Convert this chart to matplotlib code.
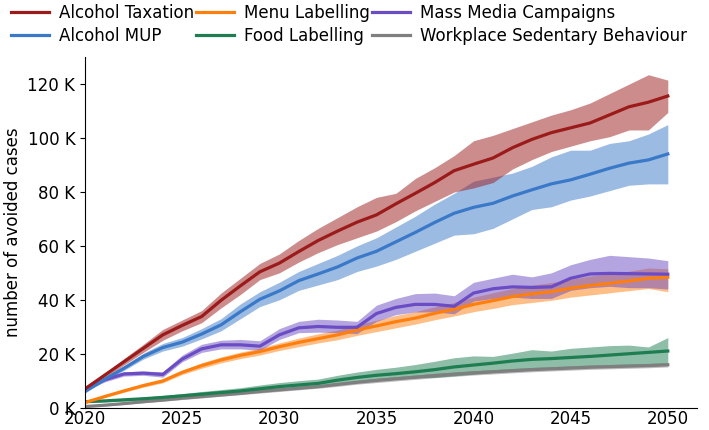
import matplotlib
matplotlib.use("Agg")
import matplotlib.pyplot as plt
from matplotlib.ticker import FuncFormatter

# years and avoided cases (thousands)
years = list(range(2020, 2051))

tax = [7.0, 12.0, 17.0, 22.0, 27.0, 30.5, 33.8, 39.8, 45.2, 50.4, 53.6, 57.9, 62.0, 65.5, 68.8,
       71.5, 75.6, 79.5, 83.5, 87.9, 90.3, 92.6, 96.4, 99.5, 102.0, 103.8, 105.6, 108.6, 111.6, 113.3, 115.6]
tax_lo = [6.5, 11.0, 15.8, 20.5, 25.0, 28.5, 31.5, 37.0, 42.0, 47.5, 50.0, 54.0, 57.5, 60.5, 63.0,
          65.5, 69.0, 73.0, 76.5, 80.0, 81.5, 83.5, 88.5, 92.0, 95.0, 97.0, 99.0, 100.5, 103.0, 103.0, 109.5]
tax_hi = [7.5, 12.8, 18.2, 23.5, 29.0, 32.5, 36.0, 42.5, 48.0, 53.5, 57.0, 62.0, 66.5, 70.5, 74.5,
          78.0, 79.5, 85.0, 89.0, 93.5, 99.0, 101.0, 103.5, 106.0, 108.5, 110.5, 113.0, 116.5, 120.0, 123.5, 121.5]

mup = [6.0, 10.5, 14.6, 19.0, 22.3, 24.3, 27.3, 30.7, 35.6, 40.2, 43.3, 47.1, 49.6, 52.2, 55.5,
       58.0, 61.5, 65.0, 68.7, 72.1, 74.3, 75.8, 78.5, 80.8, 83.0, 84.5, 86.6, 88.8, 90.7, 91.9, 94.1]
mup_lo = [5.5, 9.8, 13.8, 18.0, 21.0, 22.8, 25.5, 28.5, 33.0, 37.5, 40.0, 43.5, 45.5, 47.5, 50.5,
          52.5, 55.0, 58.0, 61.0, 64.0, 64.5, 66.5, 70.0, 73.5, 74.5, 77.0, 78.5, 80.5, 82.5, 83.0, 83.0]
mup_hi = [6.5, 11.3, 15.5, 20.2, 23.8, 26.0, 29.3, 33.0, 38.5, 43.0, 46.5, 50.5, 53.5, 56.5, 60.0,
          63.0, 67.0, 71.0, 75.5, 79.5, 84.0, 85.5, 87.0, 89.5, 93.0, 95.5, 95.5, 98.0, 99.0, 101.5, 105.0]

menu = [1.9, 4.1, 6.2, 8.2, 9.9, 13.1, 15.6, 17.7, 19.4, 20.8, 22.6, 24.2, 25.6, 27.0, 28.8,
        30.3, 31.9, 33.2, 35.0, 36.5, 38.3, 39.7, 41.2, 42.2, 43.0, 44.3, 45.3, 46.1, 47.0, 48.0, 48.4]
menu_lo = [1.6, 3.7, 5.7, 7.6, 9.2, 12.3, 14.6, 16.6, 18.2, 19.5, 21.2, 22.6, 24.0, 25.2, 26.8,
           28.2, 29.6, 31.0, 32.6, 34.0, 35.6, 36.8, 38.2, 39.0, 39.8, 41.0, 41.8, 42.6, 43.4, 44.2, 43.0]
menu_hi = [2.2, 4.5, 6.7, 8.8, 10.6, 13.9, 16.6, 18.8, 20.6, 22.1, 24.0, 25.8, 27.4, 28.8, 30.8,
           32.4, 34.2, 35.6, 37.4, 39.0, 41.0, 42.6, 44.2, 45.4, 46.4, 47.6, 48.8, 49.6, 50.6, 51.8, 51.5]

food = [2.2, 2.5, 2.9, 3.3, 3.8, 4.4, 5.0, 5.6, 6.2, 7.0, 7.8, 8.4, 9.0, 10.2, 11.2,
        12.0, 12.6, 13.3, 14.1, 15.1, 15.8, 16.5, 17.3, 17.9, 18.2, 18.6, 19.0, 19.5, 20.0, 20.5, 21.0]
food_lo = [1.9, 2.1, 2.4, 2.7, 3.1, 3.6, 4.1, 4.6, 5.1, 5.8, 6.5, 7.0, 7.5, 8.5, 9.4,
           10.0, 10.5, 11.0, 11.2, 11.8, 12.4, 13.0, 13.6, 14.2, 14.5, 14.8, 15.2, 15.5, 15.8, 16.0, 16.5]
food_hi = [2.5, 2.9, 3.4, 3.9, 4.5, 5.2, 6.0, 6.7, 7.4, 8.4, 9.3, 10.0, 10.6, 12.0, 13.2,
           14.2, 15.0, 16.0, 17.2, 18.5, 19.2, 19.0, 20.2, 21.5, 21.0, 22.0, 22.5, 23.0, 23.2, 22.5, 26.0]

mass = [7.0, 10.3, 12.5, 12.8, 12.3, 18.0, 21.8, 23.3, 23.3, 22.8, 27.0, 29.6, 30.1, 29.8, 29.8,
        34.9, 37.2, 38.3, 38.3, 37.6, 42.5, 44.1, 44.8, 44.6, 44.8, 48.0, 49.6, 49.8, 49.7, 49.6, 49.5]
mass_lo = [6.3, 9.5, 11.7, 12.0, 11.3, 17.0, 20.5, 21.8, 21.8, 21.3, 25.3, 27.8, 28.0, 27.8, 27.5,
           32.0, 34.5, 35.5, 35.5, 34.8, 39.5, 40.5, 41.0, 40.5, 40.5, 43.5, 44.5, 45.0, 44.5, 44.5, 44.0]
mass_hi = [7.7, 11.0, 13.3, 13.6, 13.3, 19.5, 23.5, 25.0, 25.3, 24.8, 29.3, 32.0, 32.8, 32.5, 32.0,
           38.0, 40.5, 42.3, 42.5, 41.5, 46.5, 48.0, 49.5, 48.5, 50.0, 53.0, 55.0, 56.5, 56.0, 55.5, 54.5]

work = [0.4, 0.9, 1.5, 2.2, 2.8, 3.5, 4.1, 4.7, 5.3, 6.0, 6.6, 7.2, 7.8, 8.6, 9.4,
        10.1, 10.7, 11.3, 11.9, 12.4, 12.9, 13.3, 13.7, 14.1, 14.4, 14.7, 15.0, 15.2, 15.4, 15.6, 15.9]
work_lo = [0.2, 0.6, 1.2, 1.8, 2.4, 3.0, 3.6, 4.2, 4.8, 5.4, 6.0, 6.6, 7.2, 7.9, 8.7,
           9.3, 9.9, 10.5, 11.1, 11.6, 12.1, 12.5, 12.9, 13.3, 13.6, 13.9, 14.2, 14.4, 14.6, 14.8, 15.1]
work_hi = [0.6, 1.2, 1.8, 2.6, 3.2, 4.0, 4.6, 5.2, 5.8, 6.6, 7.2, 7.8, 8.4, 9.3, 10.1,
           10.9, 11.5, 12.1, 12.7, 13.2, 13.7, 14.1, 14.5, 14.9, 15.2, 15.5, 15.8, 16.0, 16.2, 16.4, 16.7]

labels = ["Alcohol Taxation", "Alcohol MUP", "Menu Labelling", "Food Labelling",
          "Mass Media Campaigns", "Workplace Sedentary Behaviour"]
colors = ["#9b1b1b", "#3a78c8", "#ff7f0e", "#1f7d52", "#6a4cc4", "#7f7f7f"]
series = [(tax, tax_lo, tax_hi), (mup, mup_lo, mup_hi), (menu, menu_lo, menu_hi),
          (food, food_lo, food_hi), (mass, mass_lo, mass_hi), (work, work_lo, work_hi)]

fig = plt.figure(figsize=(7.09, 4.30), dpi=100)
ax = fig.add_axes([0.12, 0.052, 0.863, 0.815])

# draw bottom-most first so the order looks like the original
order = [5, 3, 2, 4, 1, 0]
handles = {}
for i in order:
    mid, lo, hi = series[i]
    ax.fill_between(years, lo, hi, color=colors[i], alpha=0.5, linewidth=0)
    ln, = ax.plot(years, mid, color=colors[i], lw=2.3, label=labels[i])
    handles[i] = ln

ax.set_xlim(2020, 2051.5)
ax.set_ylim(0, 130)
ax.set_xticks([2020, 2025, 2030, 2035, 2040, 2045, 2050])
ax.set_yticks([0, 20, 40, 60, 80, 100, 120])
ax.yaxis.set_major_formatter(FuncFormatter(lambda v, p: "%d K" % v))
ax.tick_params(labelsize=12)
ax.tick_params(axis="x", length=0, pad=1.5)
ax.set_ylabel("number of avoided cases", fontsize=12)
for s in ["top", "right"]:
    ax.spines[s].set_visible(False)

fig.legend([handles[i] for i in range(6)], labels, ncol=3, loc="upper left",
           bbox_to_anchor=(-0.006, 1.025), frameon=False, fontsize=12,
           handlelength=2.3, handletextpad=0.6, columnspacing=0.1, labelspacing=0.3)

fig.savefig("out.png", dpi=100)
